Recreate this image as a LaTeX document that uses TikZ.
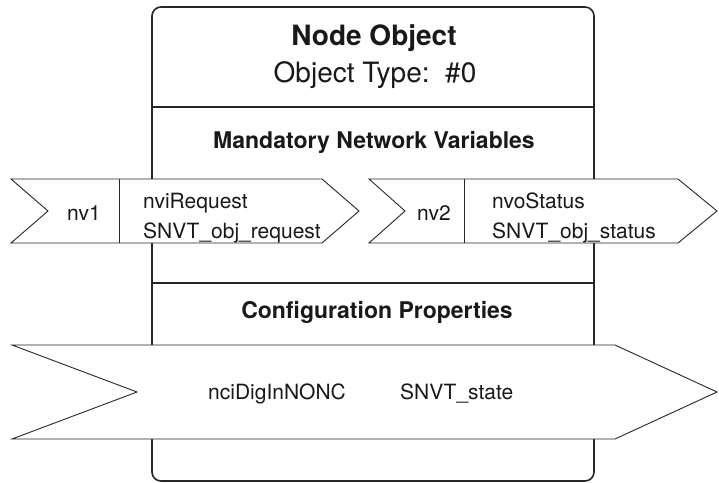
\documentclass[tikz,border=0pt]{standalone}
\usepackage{fontspec}
\setmainfont{TeX Gyre Heros}
\usetikzlibrary{calc}

\tikzset{
    objline/.style = {line width = 1.6pt, draw = black!85},
    nvshape/.style = {draw = black!85, fill = white, line width = 0.9pt, line join = miter},
    titletext/.style = {font = \fontsize{28}{30}\selectfont\bfseries, text = black!90, anchor = base, inner sep = 0},
    typetext/.style = {font = \fontsize{28}{30}\selectfont, text = black!90, anchor = base, inner sep = 0},
    sectiontext/.style = {font = \fontsize{23}{25}\selectfont\bfseries, text = black!90, anchor = base, inner sep = 0},
    nvtext/.style = {font = \fontsize{21}{23}\selectfont, text = black!90, inner sep = 0}
}

\begin{document}
\begin{tikzpicture}[x = 1pt, y = -1pt]
        \useasboundingbox (0,0) rectangle (719,482);
        \def\nvtop{179}
        \def\nvbot{243}
        \def\nvmid{211}

        % object box
        \draw[objline, rounded corners = 9pt] (152,7) rectangle (594,481);
        \draw[objline] (152,107) -- (594,107);
        \draw[objline] (152,283) -- (594,283);

        \node[titletext] (objname) at (374,45){Node Object};
        \node[typetext] (objtype) at (375,82){Object Type:\ \ \#0};
        \node[sectiontext] (mandnv) at (374,148){Mandatory Network Variables};
        \node[sectiontext] (confprop) at (377,318){Configuration Properties};

        % network variables
        \draw[nvshape] (11,\nvtop) -- (322,\nvtop) -- (359,\nvmid) -- (322,\nvbot) -- (11,\nvbot) -- (48,\nvmid) -- cycle;
        \draw[nvshape] (119,\nvtop) -- (119,\nvbot);

        \draw[nvshape] (369,\nvtop) -- (678,\nvtop) -- (717,\nvmid) -- (678,\nvbot) -- (369,\nvbot) -- (405,\nvmid) -- cycle;
        \draw[nvshape] (464,\nvtop) -- (464,\nvbot);

        \node[nvtext, anchor = base] (nvone) at (84,220){nv1};
        \node[nvtext, anchor = base west] (nvireq) at (143,208){nviRequest};
        \node[nvtext, anchor = base west] (nvireqtype) at (143,238){SNVT\_obj\_request};

        \node[nvtext, anchor = base] (nvtwo) at (434,220){nv2};
        \node[nvtext, anchor = base west] (nvostat) at (492,208){nvoStatus};
        \node[nvtext, anchor = base west] (nvostattype) at (492,238){SNVT\_obj\_status};

        % configuration property
        \draw[nvshape] (12,345) -- (615,345) -- (717,392) -- (615,439) -- (12,439) -- (137,392) -- cycle;

        \node[nvtext, anchor = base west] (ncidig) at (208,399){nciDigInNONC};
        \node[nvtext, anchor = base west] (ncidigtype) at (400,399){SNVT\_state};
\end{tikzpicture}
\end{document}
